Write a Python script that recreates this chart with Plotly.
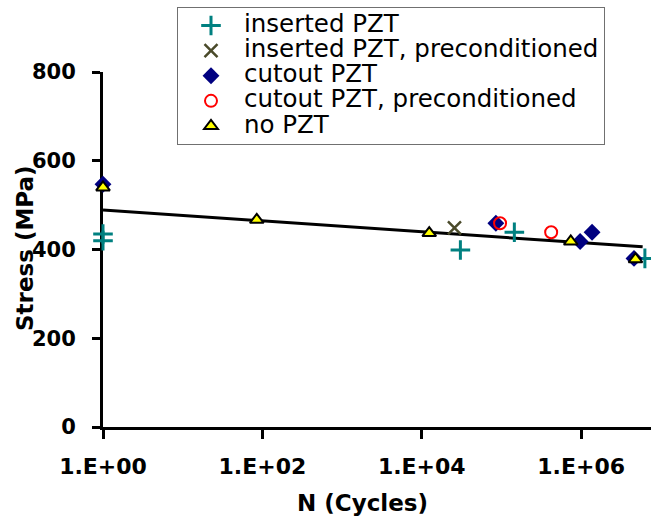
import plotly.graph_objects as go

# ---- data ----
ins_n = [1, 1, 3.05e4, 1.45e5, 6.3e6]
ins_s = [435, 420, 399, 439, 380]

insp_n = [2.57e4]
insp_s = [449]

cut_n = [1, 8.5e4, 9.7e5, 1.37e6, 4.6e6]
cut_s = [547, 459, 418, 439, 380]

cutp_n = [9.6e4, 4.2e5]
cutp_s = [459, 439]

nop_n = [1, 85, 1.24e4, 7.4e5, 4.8e6]
nop_s = [540, 467, 437, 418, 378]

fit_n = [1, 5.9e6]
fit_s = [489, 406]

x_tickvals = [1, 1e2, 1e4, 1e6]
x_ticktext = ["1.E+00", "1.E+02", "1.E+04", "1.E+06"]
y_tickvals = [0, 200, 400, 600, 800]

names = ["inserted PZT", "inserted PZT, preconditioned", "cutout PZT",
         "cutout PZT, preconditioned", "no PZT", "Series6"]

LEG_FS = 24.5


def nm(s):
    return f"<span style='font-size:{LEG_FS}px'>{s}</span>"


fig = go.Figure()

fig.add_trace(go.Scatter(x=fit_n, y=fit_s, mode="lines", name=nm(names[5]),
                         line=dict(color="black", width=3), legendrank=6,
                         showlegend=False, cliponaxis=False))
fig.add_trace(go.Scatter(x=ins_n, y=ins_s, mode="markers", name=nm(names[0]),
                         marker=dict(symbol="cross-thin-open", size=14, color="#008080",
                                     line=dict(color="#008080", width=3)),
                         legendrank=1, cliponaxis=False))
fig.add_trace(go.Scatter(x=insp_n, y=insp_s, mode="markers", name=nm(names[1]),
                         marker=dict(symbol="x-thin-open", size=13, color="#4a4a2a",
                                     line=dict(color="#4a4a2a", width=2.5)),
                         legendrank=2, cliponaxis=False))
fig.add_trace(go.Scatter(x=cut_n, y=cut_s, mode="markers", name=nm(names[2]),
                         marker=dict(symbol="diamond", size=13, color="#000080",
                                     line=dict(width=0)),
                         legendrank=3, cliponaxis=False))
fig.add_trace(go.Scatter(x=cutp_n, y=cutp_s, mode="markers", name=nm(names[3]),
                         marker=dict(symbol="circle-open", size=12, color="#ff0000",
                                     line=dict(color="#ff0000", width=2)),
                         legendrank=4, cliponaxis=False))
fig.add_trace(go.Scatter(x=nop_n, y=nop_s, mode="markers", name=nm(names[4]),
                         marker=dict(symbol="triangle-up", size=12, color="#ffff00",
                                     line=dict(color="black", width=2)),
                         legendrank=5, cliponaxis=False))

xtickfont = dict(family="DejaVu Sans", size=22, color="black", weight="bold")
ytickfont = dict(family="DejaVu Sans", size=21, color="black", weight="bold")
titlefont = dict(family="DejaVu Sans", size=23, color="black", weight="bold")

fig.update_layout(
    width=651, height=522,
    margin=dict(l=103, r=0, t=72, b=95, autoexpand=False),
    paper_bgcolor="white", plot_bgcolor="white",
    showlegend=True,
    legend=dict(
        x=(177 - 103) / 548, y=(427 - 7) / 355,
        xanchor="left", yanchor="top",
        bgcolor="white", bordercolor="#707070", borderwidth=1,
        font=dict(family="DejaVu Sans", size=17, color="black"),
        itemwidth=56,
        tracegroupgap=0,
    ),
    xaxis=dict(
        type="log", range=[0, 6.876],
        tickvals=x_tickvals, ticktext=x_ticktext,
        showgrid=False, zeroline=False,
        showline=True, linecolor="black", linewidth=3,
        ticks="outside", ticklen=9, tickwidth=3, tickcolor="black",
        tickfont=xtickfont, ticklabelstandoff=9, layer="below traces",
    ),
    yaxis=dict(
        range=[0, 800], tickvals=y_tickvals,
        showgrid=False, zeroline=False,
        showline=True, linecolor="black", linewidth=3,
        ticks="outside", ticklen=8, tickwidth=3, tickcolor="black",
        tickfont=ytickfont, ticklabelstandoff=12, layer="below traces",
    ),
    annotations=[
        dict(text="N (Cycles)", xref="paper", yref="paper",
             x=(362 - 103) / 548, y=(427 - 503) / 355,
             xanchor="center", yanchor="middle", showarrow=False,
             font=titlefont),
        dict(text="Stress (MPa)", xref="paper", yref="paper",
             x=(25 - 103) / 548, y=(427 - 248) / 355, textangle=-90,
             xanchor="center", yanchor="middle", showarrow=False,
             font=titlefont),
    ],
)

fig.write_html(
    "out.html",
    config={"displayModeBar": False},
    post_script="document.body.style.margin='0';document.body.style.overflow='hidden';",
)
